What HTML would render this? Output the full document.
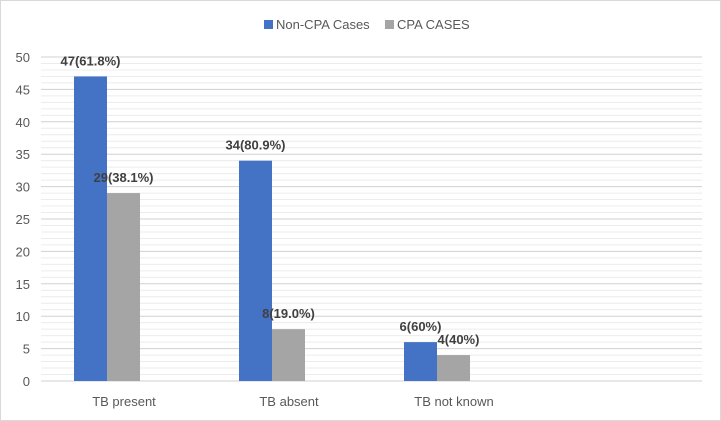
<!DOCTYPE html>
<html><head><meta charset="utf-8"><style>
body{margin:0;background:#fff}
svg{display:block;font-family:"Liberation Sans",sans-serif}
</style></head><body>
<svg id="chart" width="721" height="421">
<rect x="0.5" y="0.5" width="720" height="420" fill="#fff" stroke="#d9d9d9"/>
<g id="grid"></g>
<g id="bars"></g>
<g id="labels"></g>
<g id="axes"></g>
<g>
<rect x="264" y="20" width="9" height="9" fill="#4472c4"/>
<text x="276" y="29" font-size="13" fill="#595959">Non-CPA Cases</text>
<rect x="385" y="20" width="9" height="9" fill="#a5a5a5"/>
<text x="397" y="29" font-size="13" fill="#595959">CPA CASES</text>
</g>
</svg>
<script>
const categories=["TB present","TB absent","TB not known"];
const nonCpa=[47,34,6];
const cpa=[29,8,4];
const nonCpaLabels=["47(61.8%)","34(80.9%)","6(60%)"];
const cpaLabels=["29(38.1%)","8(19.0%)","4(40%)"];
const yTicks=[0,5,10,15,20,25,30,35,40,45,50];
const NS="http://www.w3.org/2000/svg";
const X0=41,X1=702,Y0=381,Y1=57,YMAX=50;
function y(v){return Y0-(Y0-Y1)*v/YMAX;}
function cx(i){return 107+i*165;}
const BW=33;
function mk(tag,attrs,parent){const e=document.createElementNS(NS,tag);for(const k in attrs)e.setAttribute(k,attrs[k]);document.getElementById(parent).appendChild(e);return e;}
for(let v=0;v<=YMAX;v++){
 const l=mk('line',{x1:X0,x2:X1,y1:y(v),y2:y(v),stroke:v%5===0?'#d0d0d0':'#ececec','stroke-width':1},'grid');
 
 
}
yTicks.forEach(t=>{
 const e=mk('text',{x:30,y:y(t)+5,'text-anchor':'end','font-size':13,fill:'#595959'},'axes');
 e.textContent=t;
 
 
});
categories.forEach((c,i)=>{
 const b1=mk('rect',{x:cx(i)-BW,y:y(nonCpa[i]),width:BW,height:Y0-y(nonCpa[i]),fill:'#4472c4'},'bars');
 
 
 const b2=mk('rect',{x:cx(i),y:y(cpa[i]),width:BW,height:Y0-y(cpa[i]),fill:'#a5a5a5'},'bars');
 
 
 const l1=mk('text',{x:cx(i)-BW/2,y:y(nonCpa[i])-11,'text-anchor':'middle','font-size':13,'font-weight':'bold',fill:'#404040'},'labels');
 l1.textContent=nonCpaLabels[i];
 
 
 const l2=mk('text',{x:cx(i)+BW/2+(i===2?5:0),y:y(cpa[i])-11,'text-anchor':'middle','font-size':13,'font-weight':'bold',fill:'#404040'},'labels');
 l2.textContent=cpaLabels[i];
 
 
 const xl=mk('text',{x:cx(i)+17,y:406,'text-anchor':'middle','font-size':13,fill:'#595959'},'axes');
 xl.textContent=c;
 
 
});
</script>
</body></html>
